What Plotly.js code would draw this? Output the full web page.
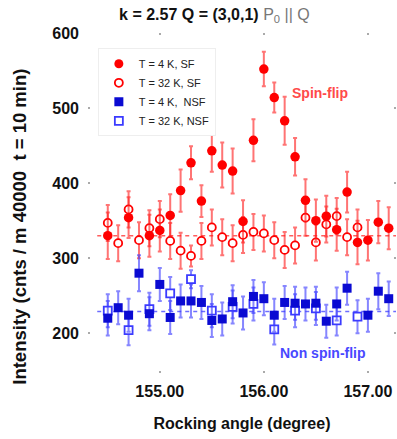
<!DOCTYPE html>
<html>
<head>
<meta charset="utf-8">
<script src="https://cdn.plot.ly/plotly-3.0.1.min.js"></script>
<style>
  html, body { margin: 0; padding: 0; background: #fff; }
  #chart { width: 397px; height: 439px; }
</style>
</head>
<body>
<div id="chart"></div>
<script>
// ---- Data ----
const angles = [154.5, 154.6, 154.7, 154.8, 154.9, 155.0, 155.1, 155.2, 155.3, 155.4,
                155.5, 155.6, 155.7, 155.8, 155.9, 156.0, 156.1, 156.2, 156.3, 156.4,
                156.5, 156.6, 156.7, 156.8, 156.9, 157.0, 157.1, 157.2];

const sf4K    = [330, null, 354, null, 330, 337, 357, 390, 427, 376,
                 443, 424, 416, 349, 457, 552, 514, 483, 435, 377,
                 350, 356, 338, 388, 321, 324, 348, 340];
const sf4KErr = [31, 0, 27, 0, 28, 28, 28, 28, 22, 21,
                 28, 30, 30, 28, 28, 23, 20, 32, 25, 28,
                 28, 27, 28, 27, 29, 27, 28, 28];

const sf32K    = [347, 320, 365, 324, 340, 352, 323, 310, 303, 323,
                  341, 328, 320, 331, 335, 333, 324, 311, 317, 354,
                  321, 345, 356, 328, 341, null, null, null];
const sf32KErr = [24, 24, 24, 24, 24, 24, 24, 24, 14, 24,
                  24, 24, 24, 24, 24, 24, 24, 24, 24, 24,
                  24, 24, 24, 24, 24, 0, 0, 0];

const nsf4K    = [220, 234, 224, 280, 226, 265, 221, 243, 243, 241,
                  217, 219, 242, 227, 249, 246, 224, 241, 240, 239,
                  240, 216, 239, 260, null, 224, 256, 246];
const nsf4KErr = [23, 22, 22, 24, 22, 22, 22, 22, 22, 22,
                  22, 22, 22, 22, 22, 22, 22, 22, 22, 22,
                  22, 22, 22, 22, 0, 22, 24, 23];

const angles32NSF = [154.5, 154.7, 154.9, 155.1, 155.3, 155.5, 155.7, 155.9, 156.1, 156.3, 156.5, 156.7, 156.9];
const nsf32K      = [230, 204, 232, 253, 272, 230, 235, 239, 205, 230, 233, 217, 222];
const nsf32KErr   = [22, 20, 22, 22, 12, 22, 22, 22, 20, 22, 22, 20, 22];

const sfBaseline  = 330;
const nsfBaseline = 229;

const legendNames = ['T = 4 K, SF', 'T = 32 K, SF', 'T = 4 K,  NSF', 'T = 32 K, NSF'];
const xTickVals = [155, 156, 157];
const xTickText = ['155.00', '156.00', '157.00'];
const yTickVals = [200, 300, 400, 500, 600];

// ---- Styles ----
const RED = '#ff0000';
const RED_ERR = 'rgba(255,30,30,0.62)';
const BLUE = '#0a0ad2';
const BLUE_OPEN = '#3b3bff';
const BLUE_ERR = 'rgba(60,60,255,0.62)';

function err(arr, color) {
  return { type: 'data', array: arr, visible: true, color: color, thickness: 2, width: 2 };
}

const traces = [
  { x: angles, y: sf32K, type: 'scatter', mode: 'markers', showlegend: false,
    marker: { symbol: 'circle', size: 8, color: '#fff', line: { color: RED, width: 1.8 } },
    error_y: err(sf32KErr, RED_ERR) },
  { x: angles, y: sf4K, type: 'scatter', mode: 'markers', showlegend: false,
    marker: { symbol: 'circle', size: 9.5, color: RED },
    error_y: err(sf4KErr, RED_ERR) },
  { x: angles32NSF, y: nsf32K, type: 'scatter', mode: 'markers', showlegend: false,
    marker: { symbol: 'square', size: 8, color: '#fff', line: { color: BLUE_OPEN, width: 1.8 } },
    error_y: err(nsf32KErr, BLUE_ERR) },
  { x: angles, y: nsf4K, type: 'scatter', mode: 'markers', showlegend: false,
    marker: { symbol: 'square', size: 9, color: BLUE },
    error_y: err(nsf4KErr, BLUE_ERR) },
  // legend entries
  { x: [null], y: [null], type: 'scatter', mode: 'markers', name: legendNames[0],
    marker: { symbol: 'circle', size: 9, color: RED } },
  { x: [null], y: [null], type: 'scatter', mode: 'markers', name: legendNames[1],
    marker: { symbol: 'circle', size: 8, color: '#fff', line: { color: RED, width: 1.8 } } },
  { x: [null], y: [null], type: 'scatter', mode: 'markers', name: legendNames[2],
    marker: { symbol: 'square', size: 9, color: BLUE } },
  { x: [null], y: [null], type: 'scatter', mode: 'markers', name: legendNames[3],
    marker: { symbol: 'square', size: 8, color: '#fff', line: { color: BLUE_OPEN, width: 1.8 } } }
];

const FONT = 'Liberation Sans, Arial, sans-serif';

const layout = {
  width: 397, height: 439,
  margin: { l: 88, r: 1, t: 33, b: 66 },
  paper_bgcolor: '#fff', plot_bgcolor: '#fff',
  font: { family: FONT, color: '#111' },
  title: {
    text: '<b>k = 2.57 Q = (3,0,1)</b> <span style="color:#777">P<sub>0</sub> || Q</span>',
    font: { family: FONT, size: 16, color: '#111' },
    x: 0.54, xref: 'container', xanchor: 'center',
    y: 0.968, yref: 'container', yanchor: 'middle'
  },
  xaxis: {
    range: [154.31, 157.27],
    tickvals: xTickVals, ticktext: xTickText,
    ticks: 'inside', ticklen: 2, tickwidth: 1.5, tickcolor: '#aaa', mirror: 'ticks',
    showline: false, showgrid: false, zeroline: false,
    tickfont: { family: FONT, size: 16, color: '#111', weight: 'bold' },
    ticklabelstandoff: 7,
    title: { text: '<b>Rocking angle (degree)</b>', font: { family: FONT, size: 16, color: '#111' }, standoff: 18 }
  },
  yaxis: {
    range: [147, 600],
    tickvals: yTickVals,
    ticks: 'inside', ticklen: 2, tickwidth: 1.5, tickcolor: '#aaa', mirror: 'ticks',
    showline: false, showgrid: false, zeroline: false,
    tickfont: { family: FONT, size: 16, color: '#111', weight: 'bold' },
    ticklabelstandoff: 8
  },
  legend: {
    x: 0.032, y: 0.955, xanchor: 'left', yanchor: 'top',
    bgcolor: '#fff', bordercolor: '#eeeeee', borderwidth: 1,
    font: { family: FONT, size: 11, color: '#222' },
    itemwidth: 30, tracegroupgap: 0
  },
  shapes: [
    { type: 'line', xref: 'paper', x0: 0.03, x1: 1, yref: 'y', y0: sfBaseline, y1: sfBaseline,
      line: { color: 'rgba(255,40,40,0.75)', width: 1.5, dash: '4px,4px' }, layer: 'below' },
    { type: 'line', xref: 'paper', x0: 0.03, x1: 1, yref: 'y', y0: nsfBaseline, y1: nsfBaseline,
      line: { color: 'rgba(60,60,255,0.75)', width: 1.5, dash: '4px,4px' }, layer: 'below' }
  ],
  annotations: [
    { x: 156.54, y: 520, xref: 'x', yref: 'y', text: '<b>Spin-flip</b>', showarrow: false,
      font: { family: FONT, size: 14, color: '#ff4a4a' } },
    { x: 156.57, y: 173, xref: 'x', yref: 'y', text: '<b>Non spin-flip</b>', showarrow: false,
      font: { family: FONT, size: 14, color: '#4848ff' } },
    { x: -0.221, y: 0.43, xref: 'paper', yref: 'paper', xanchor: 'center', yanchor: 'middle',
      textangle: -90, showarrow: false,
      text: '<b>Intensity (cnts / m 40000  t = 10 min)</b>',
      font: { family: FONT, size: 18.5, color: '#111' } }
  ]
};

Plotly.newPlot('chart', traces, layout, { displayModeBar: false, staticPlot: true });
</script>
</body>
</html>
